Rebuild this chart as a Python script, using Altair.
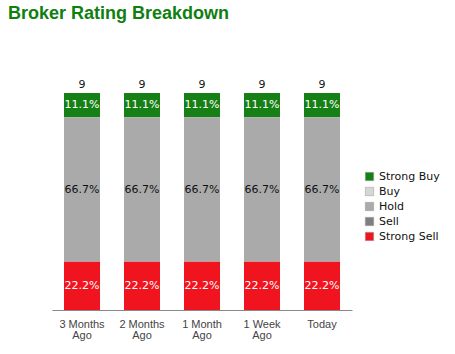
import altair as alt
import pandas as pd

periods = ["3 Months Ago", "2 Months Ago", "1 Month Ago", "1 Week Ago", "Today"]
ratings = ["Strong Buy", "Buy", "Hold", "Sell", "Strong Sell"]
colors = ["#168016", "#d6d6d6", "#aaaaaa", "#7f7f7f", "#f0141e"]
strong_buy = [1, 1, 1, 1, 1]
buy = [0, 0, 0, 0, 0]
hold = [6, 6, 6, 6, 6]
sell = [0, 0, 0, 0, 0]
strong_sell = [2, 2, 2, 2, 2]

series = [strong_buy, buy, hold, sell, strong_sell]
rows = []
for i, p in enumerate(periods):
    total = sum(s[i] for s in series)
    for r_i, (r, s) in enumerate(zip(ratings, series)):
        rows.append({"period": p, "rating": r, "count": s[i],
                     "order": 4 - r_i, "total": total,
                     "pct": f"{100 * s[i] / total:.1f}%"})
df = pd.DataFrame(rows)
totals = pd.DataFrame({"period": periods,
                       "total": [sum(s[i] for s in series) for i in range(len(periods))]})

xenc = alt.X("period:N", sort=periods, title=None,
             scale=alt.Scale(paddingInner=0.4, paddingOuter=0.2),
             axis=alt.Axis(labelExpr="split(datum.label, ' ').length > 2 ? [slice(split(datum.label, ' '),0,2)[0] + ' ' + slice(split(datum.label, ' '),0,2)[1], split(datum.label, ' ')[2]] : datum.label",
                           labelAngle=0, ticks=False, domainColor="#888888",
                           labelColor="#444444", labelFont="Liberation Sans",
                           labelFontSize=11, labelPadding=8, labelLineHeight=11))
yscale = alt.Scale(domain=[0, 10], nice=False)

bars = alt.Chart(df).mark_bar().encode(
    x=xenc,
    y=alt.Y("count:Q", stack="zero", scale=yscale, axis=None),
    color=alt.Color("rating:N", scale=alt.Scale(domain=ratings, range=colors),
                    legend=alt.Legend(title=None, orient="none", legendX=312, legendY=102,
                                      symbolType="square", symbolSize=70,
                                      symbolStrokeColor="#999999", symbolStrokeWidth=0.5,
                                      labelFont="DejaVu Sans", labelFontSize=11,
                                      labelColor="#111111", rowPadding=3)),
    order=alt.Order("order:Q"),
)

labels = alt.Chart(df).transform_filter("datum.count > 0").transform_stack(
    stack="count", groupby=["period"], as_=["y0", "y1"],
    sort=[alt.SortField("order", order="ascending")]
).transform_calculate(mid="(datum.y0 + datum.y1) / 2").mark_text(
    font="DejaVu Sans", fontSize=11, baseline="middle"
).encode(
    x=alt.X("period:N", sort=periods),
    y=alt.Y("mid:Q", scale=yscale),
    text="pct:N",
    color=alt.condition("datum.rating == 'Hold'", alt.value("#111111"), alt.value("#ffffff")),
)

tot = alt.Chart(totals).mark_text(font="DejaVu Sans", fontSize=11, baseline="bottom", dy=-3,
                                  color="#111111").encode(
    x=alt.X("period:N", sort=periods),
    y=alt.Y("total:Q", scale=yscale),
    text="total:Q",
)

chart = alt.layer(bars, labels, tot).properties(
    width=300, height=241,
    autosize=alt.AutoSizeParams(type="none"),
    padding={"left": 52, "top": 69, "right": 103, "bottom": 44},
    title=alt.Title("Broker Rating Breakdown", anchor="start", font="Liberation Sans",
                    fontSize=18, fontWeight="bold", color="#0f800f", dx=-44, offset=46,
                    frame="group"),
).configure_view(stroke=None).configure_legend(labelLimit=200)

chart.save("out.html", embed_options={"renderer": "svg", "actions": False})
